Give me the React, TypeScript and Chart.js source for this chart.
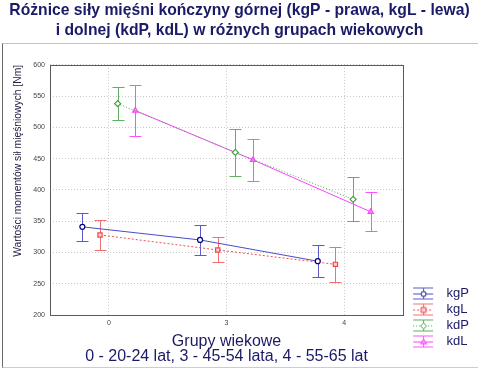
import React, { useEffect, useRef } from 'react';
import { Chart, registerables } from 'chart.js';

Chart.register(...registerables);

// ---- data ----
const groupLabels = ['0', '3', '4'];
const seriesNames = ['kgP', 'kgL', 'kdP', 'kdL'];
const kgP = [341, 320, 286];
const kgPErr = [22, 24, 26];
const kgL = [328, 304, 281];
const kgLErr = [24, 20, 28];
const kdP = [538, 460, 385];
const kdPErr = [26, 37, 35];
const kdL = [527, 448, 365];
const kdLErr = [41, 33, 31];
const yTicks = [200, 250, 300, 350, 400, 450, 500, 550, 600];

const titleLines = [
  'Różnice siły mięśni kończyny górnej (kgP - prawa, kgL - lewa)',
  'i dolnej (kdP, kdL) w różnych grupach wiekowych',
];
const yTitle = 'Wartości momentów sił mięśniowych [Nm]';
const xTitleLines = ['Grupy wiekowe', '0 - 20-24 lat, 3 - 45-54 lata, 4 - 55-65 lat'];

// ---- styles ----
const FONT = '"Liberation Sans", Arial, sans-serif';
const NAVY = '#1a1a66';
const groupOffsets = [-0.225, -0.075, 0.075, 0.225];
const styles = [
  { line: '#4b4bc8', err: '#5a5ac8', dash: [] as number[], point: 'circle', pColor: '#000080', pFill: '#ffffff', r: 2.5 },
  { line: '#f05050', err: '#f07070', dash: [2, 2], point: 'rect', pColor: '#f04848', pFill: '#ffd0d0', r: 3 },
  { line: '#50a850', err: '#60b060', dash: [1, 2], point: 'rectRot', pColor: '#40a040', pFill: '#ffffff', r: 3 },
  { line: '#ff40ff', err: '#ff50ff', dash: [] as number[], point: 'triangle', pColor: '#ff40ff', pFill: '#ff90ff', r: 3 },
];
const seriesValues = [kgP, kgL, kdP, kdL];
const seriesErrors = [kgPErr, kgLErr, kdPErr, kdLErr];

function makeIcon(i: number): HTMLCanvasElement {
  const c = document.createElement('canvas');
  c.width = 34;
  c.height = 16;
  const g = c.getContext('2d')!;
  const s = styles[i];
  const x0 = 7, x1 = 27, cx = 17.5;
  g.lineWidth = 1;
  g.strokeStyle = s.err;
  g.beginPath();
  g.moveTo(x0, 2.5); g.lineTo(x1, 2.5);
  g.moveTo(x0, 13.5); g.lineTo(x1, 13.5);
  g.moveTo(cx, 2.5); g.lineTo(cx, 13.5);
  g.stroke();
  g.strokeStyle = s.line;
  g.setLineDash(s.dash);
  g.beginPath();
  g.moveTo(x0, 8.5); g.lineTo(x1, 8.5);
  g.stroke();
  g.setLineDash([]);
  g.fillStyle = s.pFill;
  g.strokeStyle = s.pColor;
  g.beginPath();
  const r = s.r;
  if (s.point === 'circle') g.arc(cx, 8.5, r, 0, Math.PI * 2);
  else if (s.point === 'rect') g.rect(cx - r + 0.5, 8.5 - r + 0.5, 2 * r - 1, 2 * r - 1);
  else if (s.point === 'rectRot') { g.moveTo(cx, 8.5 - r); g.lineTo(cx + r, 8.5); g.lineTo(cx, 8.5 + r); g.lineTo(cx - r, 8.5); g.closePath(); }
  else { g.moveTo(cx, 8.5 - r); g.lineTo(cx + r, 8.5 + r * 0.6); g.lineTo(cx - r, 8.5 + r * 0.6); g.closePath(); }
  g.fill();
  g.stroke();
  return c;
}

const errorBarPlugin = {
  id: 'errorBars',
  beforeDatasetsDraw(chart: any) {
    const { ctx } = chart;
    const xs = chart.scales.x, ys = chart.scales.y;
    chart.data.datasets.forEach((ds: any) => {
      ctx.save();
      ctx.strokeStyle = ds.errColor;
      ctx.lineWidth = 1;
      ds.data.forEach((p: any, i: number) => {
        const px = Math.round(xs.getPixelForValue(p.x)) + 0.5;
        const top = Math.round(ys.getPixelForValue(p.y + ds.errors[i])) + 0.5;
        const bot = Math.round(ys.getPixelForValue(p.y - ds.errors[i])) + 0.5;
        ctx.beginPath();
        ctx.moveTo(px, top); ctx.lineTo(px, bot);
        ctx.moveTo(px - 6, top); ctx.lineTo(px + 6, top);
        ctx.moveTo(px - 6, bot); ctx.lineTo(px + 6, bot);
        ctx.stroke();
      });
      ctx.restore();
    });
  },
};

const framePlugin = {
  id: 'frames',
  afterDraw(chart: any) {
    const { ctx, chartArea: a } = chart;
    ctx.save();
    ctx.lineWidth = 1;
    ctx.strokeStyle = '#5a5a5a';
    ctx.strokeRect(Math.round(a.left) + 0.5, Math.round(a.top) + 0.5, Math.round(a.right - a.left), Math.round(a.bottom - a.top));
    // outer panel frame
    ctx.strokeStyle = '#c4c4c4';
    ctx.beginPath(); ctx.moveTo(2, 43.5); ctx.lineTo(478, 43.5); ctx.stroke();
    ctx.strokeStyle = '#c8d2c4';
    ctx.beginPath(); ctx.moveTo(2, 367.5); ctx.lineTo(478, 367.5); ctx.stroke();
    ctx.strokeStyle = '#6a6a6a';
    ctx.beginPath(); ctx.moveTo(2.5, 43.5); ctx.lineTo(2.5, 367.5); ctx.stroke();
    ctx.restore();
  },
};

export default function App() {
  const ref = useRef<HTMLCanvasElement>(null);
  useEffect(() => {
    const icons = seriesNames.map((_, i) => makeIcon(i));
    const datasets = seriesNames.map((name, si) => ({
      label: name,
      data: seriesValues[si].map((v, gi) => ({ x: gi + groupOffsets[si], y: v })),
      errors: seriesErrors[si],
      errColor: styles[si].err,
      borderColor: styles[si].line,
      borderWidth: 1,
      borderDash: styles[si].dash,
      backgroundColor: styles[si].pFill,
      pointStyle: styles[si].point,
      pointRadius: styles[si].r,
      pointBorderColor: styles[si].pColor,
      pointBackgroundColor: styles[si].pFill,
      pointBorderWidth: 1.2,
      showLine: true,
      fill: false,
      tension: 0,
    }));
    const chart = new Chart(ref.current!, {
      type: 'line',
      data: { datasets } as any,
      plugins: [errorBarPlugin, framePlugin],
      options: {
        animation: false,
        responsive: false,
        devicePixelRatio: 1,
        layout: { padding: { left: 0, right: 1, top: 0, bottom: 18 } },
        plugins: {
          title: {
            display: true,
            text: titleLines,
            color: NAVY,
            font: { family: FONT, size: 15.7, weight: 'bold', lineHeight: 1.27 },
            padding: { top: 1, bottom: 24 },
          },
          legend: {
            position: 'right',
            align: 'end',
            labels: {
              usePointStyle: true,
              pointStyleWidth: 34,
              padding: 3,
              color: NAVY,
              font: { family: FONT, size: 13 },
              generateLabels: () =>
                seriesNames.map((n, i) => ({
                  text: n,
                  pointStyle: icons[i],
                  datasetIndex: i,
                  fillStyle: '#fff',
                  strokeStyle: '#fff',
                  lineWidth: 0,
                  hidden: false,
                  fontColor: NAVY,
                })) as any,
            },
          },
          tooltip: { enabled: false },
        },
        scales: {
          x: {
            type: 'linear',
            min: -0.5,
            max: 2.5,
            afterFit: (s: any) => { s.height = 36; },
            afterBuildTicks: (s: any) => { s.ticks = groupLabels.map((_, i) => ({ value: i })); },
            ticks: {
              callback: (v: any) => groupLabels[v as number] ?? '',
              color: '#444',
              font: { family: FONT, size: 7 },
              padding: 4,
              maxRotation: 0,
            },
            grid: { color: '#c8c8c8', drawTicks: false },
            border: { display: false, dash: [1, 2] },
            title: {
              display: true,
              text: xTitleLines,
              color: NAVY,
              font: { family: FONT, size: 16, lineHeight: 0.94 },
              padding: { top: 0, bottom: -13 },
            },
          },
          y: {
            type: 'linear',
            min: 200,
            max: 600,
            afterFit: (s: any) => { s.width = 50; },
            afterBuildTicks: (s: any) => { s.ticks = yTicks.map((v) => ({ value: v })); },
            ticks: {
              color: '#444',
              font: { family: FONT, size: 7 },
              padding: 5,
            },
            grid: { color: '#c8c8c8', drawTicks: false },
            border: { display: false, dash: [1, 2] },
            title: {
              display: true,
              text: yTitle,
              align: 'end',
              color: '#222244',
              font: { family: FONT, size: 10.3, lineHeight: 1.2 },
              padding: { top: 12, bottom: 0 },
            },
          },
        },
      } as any,
    });
    return () => chart.destroy();
  }, []);
  return (
    <div style={{ position: 'fixed', left: 0, top: 0, width: 480, height: 369, background: '#fff' }}>
      <canvas ref={ref} width={480} height={369} />
    </div>
  );
}
